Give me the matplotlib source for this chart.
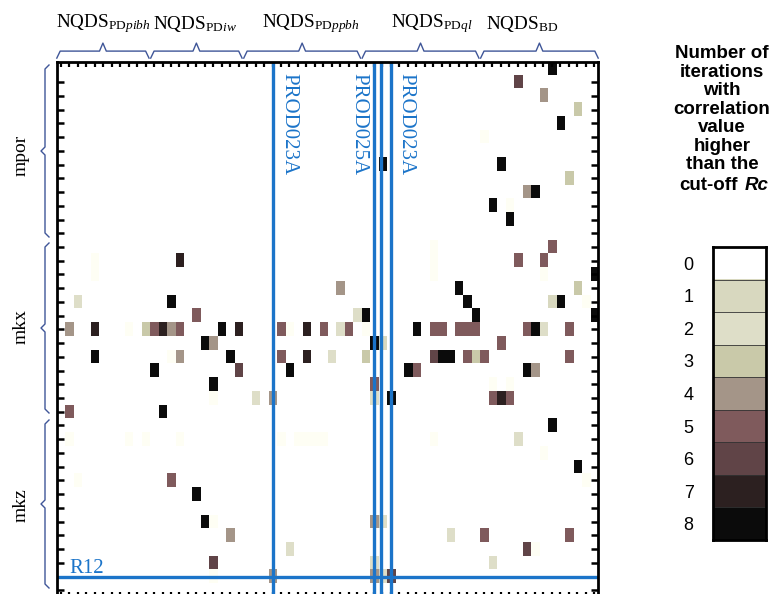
import matplotlib.pyplot as plt
import numpy as np
from matplotlib.colors import ListedColormap, BoundaryNorm
from matplotlib.lines import Line2D

plt.rcParams['mathtext.fontset'] = 'custom'
plt.rcParams['mathtext.rm'] = 'Liberation Serif'
plt.rcParams['mathtext.it'] = 'Liberation Serif:italic'

W, H = 779, 594
n_rows = 39
n_cols = 64

# (row, col, level) ; level -1 = barely visible cell
mpor_cells = [(0, 58, 8), (1, 54, 6), (2, 57, 4), (3, 61, 3), (4, 59, 8), (5, 50, -1),
              (7, 38, 8), (7, 52, 8), (8, 60, 3), (9, 55, 4), (9, 56, 8), (10, 51, 8),
              (10, 53, -1), (11, 53, 8)]
mkx_cells = [(13, 58, 5), (13, 44, -1), (14, 4, -1), (15, 4, -1), (14, 44, -1), (15, 44, -1),
             (14, 14, 7), (14, 54, 5), (14, 57, 5), (15, 57, -1), (15, 63, 8),
             (16, 33, 4), (16, 47, 8), (16, 61, 3),
             (17, 2, 2), (17, 13, 8), (17, 48, 8), (17, 58, 1), (17, 59, 8), (17, 62, -1),
             (18, 16, 5), (18, 35, 2), (18, 36, 8), (18, 49, 8), (18, 63, 8),
             (19, 1, 4), (19, 4, 7), (19, 8, -1), (19, 10, 3), (19, 11, 5), (19, 12, 7),
             (19, 13, 4), (19, 14, 5), (19, 19, 8), (19, 21, 7), (19, 26, 5), (19, 27, -1),
             (19, 29, 7), (19, 31, 5), (19, 33, 2), (19, 34, 5), (19, 36, -1), (19, 42, 8),
             (19, 44, 5), (19, 45, 5), (19, 47, 5), (19, 48, 5), (19, 49, 5), (19, 55, 5),
             (19, 56, 8), (19, 57, 2), (19, 60, 5),
             (20, 17, 8), (20, 18, 4), (20, 37, 8), (20, 38, 1), (20, 52, 5),
             (21, 4, 8), (21, 13, -1), (21, 14, 4), (21, 20, 8), (21, 26, 5), (21, 29, 7),
             (21, 32, 2), (21, 36, 3), (21, 44, 6), (21, 45, 8), (21, 46, 8), (21, 48, 5),
             (21, 49, 3), (21, 50, 5), (21, 60, 5),
             (22, 11, 8), (22, 21, 6), (22, 27, 8), (22, 41, 8), (22, 42, 5), (22, 55, 8),
             (22, 56, 4),
             (23, 18, 8), (23, 37, 5), (23, 51, -1), (23, 53, -1),
             (24, 18, -1), (24, 23, 2), (24, 25, 4), (24, 37, 2), (24, 39, 8), (24, 51, 5),
             (24, 52, 7), (24, 53, 5),
             (25, 1, 5), (25, 12, 8)]
mkz_cells = [(26, 58, 8),
             (27, 1, -1), (27, 8, -1), (27, 10, -1), (27, 14, -1), (27, 26, -1), (27, 28, -1),
             (27, 29, -1), (27, 30, -1), (27, 31, -1), (27, 44, -1), (27, 54, 2),
             (28, 57, -1), (29, 61, 8),
             (30, 2, -1), (30, 13, 5), (30, 62, -1),
             (31, 16, 8),
             (33, 17, 8), (33, 18, -1), (33, 37, 4), (33, 38, 2),
             (34, 20, 4), (34, 46, 2), (34, 50, 5), (34, 60, 5),
             (35, 27, 2), (35, 55, 6), (35, 56, -1),
             (36, 18, 6), (36, 37, 2), (36, 51, 2),
             (37, 18, -1), (37, 25, 4), (37, 37, 4), (37, 38, 2), (37, 39, 6)]

levels = [0, 1, 2, 3, 4, 5, 6, 7, 8]
level_colors = ['#FFFFFF', '#D8D8BF', '#DEDEC8', '#C9C9A9', '#A49588',
                '#7F5A5C', '#604447', '#2C2020', '#0B0B0B']
faint_color = '#FEFEF4'

group_names = ['mpor', 'mkx', 'mkz']
group_span_px = [(65, 237), (243, 413), (420, 588)]
group_label_y = [155, 327, 505]

dataset_labels = [r'NQDS$_{\mathrm{PD}\mathit{pibh}}$', r'NQDS$_{\mathrm{PD}\mathit{iw}}$',
                  r'NQDS$_{\mathrm{PD}\mathit{ppbh}}$', r'NQDS$_{\mathrm{PD}\mathit{ql}}$',
                  r'NQDS$_{\mathrm{BD}}$']
dataset_cols = [(-0.5, 10.4), (10.6, 21.4), (21.6, 35.4), (35.6, 49.4), (49.6, 63.5)]
dataset_label_x = [103, 195, 311, 432, 522]

prod_lines = [25, 37, 37.8, 39]
prod_names = ['PROD023A', 'PROD025A', 'PROD023A']
prod_text_x = [25.8, 36.3, 39.6]
prod_text_ha = ['left', 'right', 'left']
r12_row = 37

blue = '#1B74C9'
brace_color = '#3F5698'

grid = np.zeros((n_rows, n_cols))
for r, c, v in mpor_cells + mkx_cells + mkz_cells:
    grid[r, c] = v

cmap = ListedColormap([faint_color] + level_colors)
norm = BoundaryNorm(np.arange(-1.5, 9.5, 1), cmap.N)

fig = plt.figure(figsize=(W / 100, H / 100), dpi=100)

def fx(x):
    return x / W

def fy(y):
    return 1 - y / H

left, right, top, bottom = 56.8, 598.2, 61.6, 597.1
ax = fig.add_axes([fx(left), fy(bottom), (right - left) / W, (bottom - top) / H])
ax.imshow(grid, cmap=cmap, norm=norm, aspect='auto', interpolation='nearest')
ax.set_xticks(range(n_cols))
ax.set_yticks(range(1, n_rows))
ax.tick_params(direction='in', top=True, right=True, labelbottom=False, labelleft=False)
ax.tick_params(axis='x', length=3.5, width=1.6)
ax.tick_params(axis='y', length=5, width=1.8)
for s in ax.spines.values():
    s.set_linewidth(2)

for c in prod_lines:
    ax.axvline(c, color=blue, lw=2.4)
ax.axhline(r12_row, color=blue, lw=2.4)
for name, x, ha in zip(prod_names, prod_text_x, prod_text_ha):
    ax.text(x, 0.3, name, rotation=270, ha=ha, va='top', color=blue,
            family='Liberation Serif', fontsize=15)
ax.text(1.0, 36.75, 'R12', color=blue, family='Liberation Serif', fontsize=15,
        ha='left', va='baseline')

# left braces and row-group labels
for name, (y0, y1), ly in zip(group_names, group_span_px, group_label_y):
    ym = (y0 + y1) / 2
    xs = [49, 45, 45, 41, 45, 45, 49]
    ys = [y0, y0 + 4, ym - 4, ym, ym + 4, y1 - 4, y1]
    fig.add_artist(Line2D([fx(v) for v in xs], [fy(v) for v in ys], color=brace_color, lw=1))
    fig.text(fx(21), fy(ly), name, rotation=90, ha='center', va='center',
             family='Liberation Serif', fontsize=14)

# top braces and dataset labels
tb = ax.get_xaxis_transform()
for lab, (c0, c1), lx in zip(dataset_labels, dataset_cols, dataset_label_x):
    cm = (c0 + c1) / 2
    y_line = 1 + 10.5 / (bottom - top)
    y_end = 1 + 3.5 / (bottom - top)
    y_notch = 1 + 18.5 / (bottom - top)
    xs = [c0, c0 + 0.4, cm - 0.4, cm, cm + 0.4, c1 - 0.4, c1]
    ys = [y_end, y_line, y_line, y_notch, y_line, y_line, y_end]
    ax.add_artist(Line2D(xs, ys, transform=tb, color=brace_color, lw=1, clip_on=False))
    fig.text(fx(lx), fy(24), lab, ha='center', va='center',
             family='Liberation Serif', fontsize=13.8)

# legend bar
cb_l, cb_r, cb_t, cb_b = 713, 766, 247, 540
cax = fig.add_axes([fx(cb_l), fy(cb_b), (cb_r - cb_l) / W, (cb_b - cb_t) / H])
cax.imshow(np.array(levels).reshape(-1, 1), cmap=cmap, norm=norm, aspect='auto',
           interpolation='nearest')
for b in np.arange(0.5, len(levels) - 1, 1):
    cax.axhline(b, color='#333333', lw=0.6)
cax.set_xticks([])
cax.set_yticks(levels)
cax.set_yticklabels([str(v) for v in levels], family='Liberation Sans', fontsize=13)
cax.tick_params(axis='y', length=0, pad=14)
for s in cax.spines.values():
    s.set_linewidth(2)

title = 'Number of\niterations\nwith\ncorrelation\nvalue\nhigher\nthan the'
fig.text(fx(722), fy(45), title, ha='center', va='top', family='Liberation Sans',
         weight='bold', fontsize=13.5, linespacing=1.12)
fig.text(fx(709), fy(186), 'cut-off', ha='center', va='center',
         family='Liberation Sans', weight='bold', fontsize=13.5)
fig.text(fx(745), fy(186), 'Rc', ha='left', va='center', family='Liberation Sans',
         weight='bold', style='italic', fontsize=13.5)

fig.savefig('out.png', dpi=100)
